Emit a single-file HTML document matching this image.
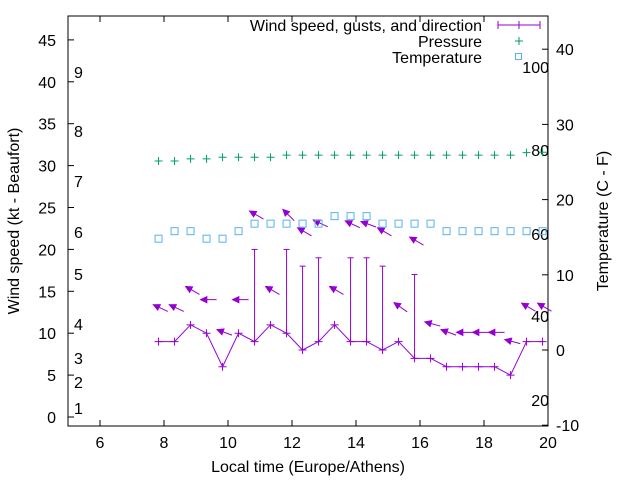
<!DOCTYPE html>
<html><head><meta charset="utf-8"><style>
body{margin:0;background:#fff}
svg{display:block;font-family:"Liberation Sans",sans-serif}
</style></head><body>
<svg id="chart" width="640" height="480" xmlns="http://www.w3.org/2000/svg"></svg>
<script>
const times=[7.83,8.33,8.83,9.33,9.83,10.33,10.83,11.33,11.83,12.33,12.83,13.33,13.83,14.33,14.83,15.33,15.83,16.33,16.83,17.33,17.83,18.33,18.83,19.33,19.83];
const windSpeed=[9,9,11,10,6,10,9,11,10,8,9,11,9,9,8,9,7,7,6,6,6,6,5,9,9];
const windGust=[9,9,11,10,6,10,20,11,20,18,19,11,19,19,18,9,17,7,6,6,6,6,5,9,9];
const arrowLevel=[13,13,15.1,14,10.1,14,24.1,15.1,24.1,22.1,23.1,15.1,23,23,22.1,13.1,21,11.1,10.1,10.1,10.1,10.1,9,13.1,13.1];
const arrowAngle=[155,155,150,180,160,180,150,150,135,150,155,150,155,160,150,145,150,165,160,180,180,180,165,150,150];
const pressure=[30.55,30.55,30.8,30.8,31,31,31,31,31.25,31.25,31.25,31.25,31.25,31.25,31.25,31.25,31.25,31.25,31.25,31.25,31.25,31.25,31.25,31.55,31.6];
const tempC=[15,16,16,15,15,16,17,17,17,17,17,18,18,18,17,17,17,17,16,16,16,16,16,16,16];
const xTicks=[6,8,10,12,14,16,18,20];
const yTicks=[0,5,10,15,20,25,30,35,40,45];
const y2Ticks=[-10,0,10,20,30,40];
const beaufortLabels=[[1,408],[2,382],[3,358],[4,324],[5,274],[6,232],[7,181],[8,131],[9,72]];
const fLabels=[[100,67],[80,150],[60,234],[40,316],[20,400]];

const L=68,R=548,T=16,B=426;
const X=t=>L+(t-5)*32;
const Y=v=>417-8.38*v;
const Y2=c=>350-7.52*c;
const svg=document.getElementById('chart');
const NS='http://www.w3.org/2000/svg';
const FS=16;
function mk(tag,attrs,parent,name,text){
  const e=document.createElementNS(NS,tag);
  for(const k in attrs)e.setAttribute(k,attrs[k]);
  
  
  if(text!==undefined)e.textContent=text;
  (parent||svg).appendChild(e);return e;
}
mk('rect',{x:L,y:T,width:R-L,height:B-T,fill:'none',stroke:'#000','stroke-width':1},svg,'plot-frame');
xTicks.forEach(t=>{
  const x=X(t);
  mk('line',{x1:x,y1:B,x2:x,y2:B-6,stroke:'#000'},svg,'x-tick');
  mk('line',{x1:x,y1:T,x2:x,y2:T+6,stroke:'#000'},svg,'x-tick-top');
  mk('text',{x:x,y:448,'text-anchor':'middle','font-size':FS},svg,'x-tick-label',t);
});
yTicks.forEach(v=>{
  const y=Y(v);
  mk('line',{x1:L,y1:y,x2:L+6,y2:y,stroke:'#000'},svg,'y-tick');
  mk('text',{x:56,y:y+6,'text-anchor':'end','font-size':FS},svg,'y-tick-label',v);
});
y2Ticks.forEach(c=>{
  const y=Y2(c);
  mk('line',{x1:R,y1:y,x2:R-6,y2:y,stroke:'#000'},svg,'y2-tick');
  mk('text',{x:556,y:y+6,'text-anchor':'start','font-size':FS},svg,'y2-tick-label',c);
});
beaufortLabels.forEach(([b,y])=>mk('text',{x:74,y:y+6,'font-size':FS},svg,'beaufort-label',b));
fLabels.forEach(([f,y])=>mk('text',{x:549,y:y+6,'text-anchor':'end','font-size':FS},svg,'fahrenheit-label',f));
mk('text',{x:308,y:472,'text-anchor':'middle','font-size':FS},svg,'x-axis-title','Local time (Europe/Athens)');
mk('text',{x:0,y:0,'text-anchor':'middle','font-size':FS,transform:'translate(19,221) rotate(-90)'},svg,'y-axis-title','Wind speed (kt - Beaufort)');
mk('text',{x:0,y:0,'text-anchor':'middle','font-size':FS,transform:'translate(608,221) rotate(-90)'},svg,'y2-axis-title','Temperature (C - F)');
const purple='#9400d3',green='#009e73',blue='#56b4e9';
mk('text',{x:482,y:31,'text-anchor':'end','font-size':FS},svg,'legend-wind-label','Wind speed, gusts, and direction');
mk('line',{x1:498,y1:25,x2:540,y2:25,stroke:purple},svg,'legend-wind-line');
[498,519,540].forEach(x=>mk('line',{x1:x,y1:21,x2:x,y2:29,stroke:purple},svg,'legend-wind-tick'));
mk('text',{x:482,y:47,'text-anchor':'end','font-size':FS},svg,'legend-pressure-label','Pressure');
mk('path',{d:'M515 41h8M519 37v8',stroke:green},svg,'legend-pressure-marker');
mk('text',{x:482,y:63,'text-anchor':'end','font-size':FS},svg,'legend-temperature-label','Temperature');
mk('rect',{x:515.5,y:53.5,width:6,height:6,fill:'none',stroke:blue},svg,'legend-temperature-marker');
mk('polyline',{points:times.map((t,i)=>X(t)+','+Y(windSpeed[i])).join(' '),fill:'none',stroke:purple},svg,'wind-speed-line');
times.forEach((t,i)=>{
  const x=X(t),y=Y(windSpeed[i]);
  mk('path',{d:`M${x-4} ${y}h8M${x} ${y-4}v8`,stroke:purple},svg,'wind-speed-point');
  if(windGust[i]>windSpeed[i]){
    const yg=Y(windGust[i]);
    mk('line',{x1:x,y1:y,x2:x,y2:yg,stroke:purple},svg,'gust-bar');
    mk('line',{x1:x-3,y1:yg,x2:x+3,y2:yg,stroke:purple},svg,'gust-cap');
  }
  const a=arrowAngle[i]*Math.PI/180,len=16;
  const cx=x+2,cy=Y(arrowLevel[i]);
  const hx=cx+Math.cos(a)*len*0.5,hy=cy-Math.sin(a)*len*0.5;
  const tx=cx-Math.cos(a)*len*0.5,ty=cy+Math.sin(a)*len*0.5;
  mk('line',{x1:tx,y1:ty,x2:hx,y2:hy,stroke:purple},svg,'wind-direction-shaft');
  const hl=7,hw=0.45;
  const p1=[hx-Math.cos(a-hw)*hl,hy+Math.sin(a-hw)*hl],p2=[hx-Math.cos(a+hw)*hl,hy+Math.sin(a+hw)*hl];
  mk('polygon',{points:`${hx},${hy} ${p1} ${p2}`,fill:purple,stroke:purple},svg,'wind-direction-head');
});
pressure.forEach((p,i)=>{
  const x=X(times[i]),y=Y(p);
  mk('path',{d:`M${x-4} ${y}h8M${x} ${y-4}v8`,stroke:green},svg,'pressure-point');
});
tempC.forEach((c,i)=>{
  const x=X(times[i]),y=Y2(c)+1.5;
  mk('rect',{x:x-3.5,y:y-3.5,width:7,height:7,fill:'none',stroke:blue},svg,'temperature-point');
});
</script>
</body></html>
